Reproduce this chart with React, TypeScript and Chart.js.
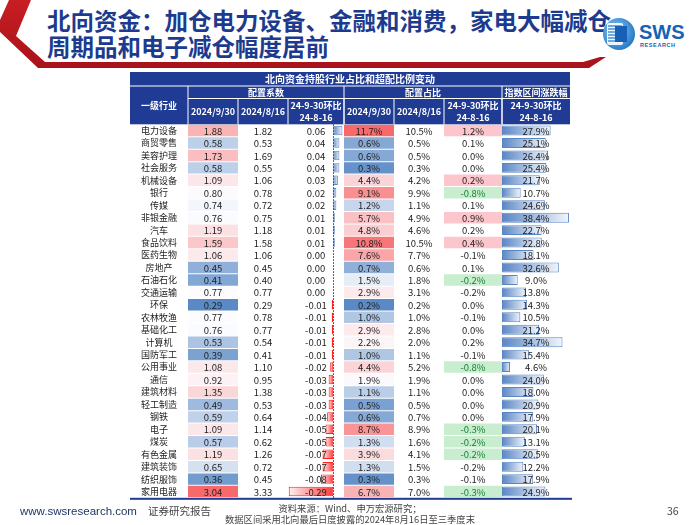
import React, { useEffect, useRef } from 'react';
import { Chart, registerables } from 'chart.js';

Chart.register(...registerables);

// ---------------- data ----------------
const industries = ['电力设备', '商贸零售', '美容护理', '社会服务', '机械设备', '银行', '传媒', '非银金融', '汽车', '食品饮料', '医药生物', '房地产', '石油石化', '交通运输', '环保', '农林牧渔', '基础化工', '计算机', '国防军工', '公用事业', '通信', '建筑材料', '轻工制造', '钢铁', '电子', '煤炭', '有色金属', '建筑装饰', '纺织服饰', '家用电器'];
const coef0930 = [1.88, 0.58, 1.73, 0.58, 1.09, 0.80, 0.74, 0.76, 1.19, 1.59, 1.06, 0.45, 0.41, 0.77, 0.29, 0.77, 0.76, 0.53, 0.39, 1.08, 0.92, 1.35, 0.49, 0.59, 1.09, 0.57, 1.19, 0.65, 0.36, 3.04];
const coef0816 = [1.82, 0.53, 1.69, 0.55, 1.06, 0.78, 0.72, 0.75, 1.18, 1.58, 1.06, 0.45, 0.40, 0.77, 0.29, 0.78, 0.77, 0.54, 0.41, 1.10, 0.95, 1.38, 0.53, 0.64, 1.14, 0.62, 1.26, 0.72, 0.45, 3.33];
const coefChange = [0.06, 0.04, 0.04, 0.04, 0.03, 0.02, 0.02, 0.01, 0.01, 0.01, 0.00, 0.00, 0.00, 0.00, -0.01, -0.01, -0.01, -0.01, -0.01, -0.02, -0.03, -0.03, -0.03, -0.04, -0.05, -0.05, -0.07, -0.07, -0.08, -0.29];
const share0930 = [11.7, 0.6, 0.6, 0.3, 4.4, 9.1, 1.2, 5.7, 4.8, 10.8, 7.6, 0.7, 1.5, 2.9, 0.2, 1.0, 2.9, 2.2, 1.0, 4.4, 1.9, 1.1, 0.5, 0.6, 8.7, 1.3, 3.9, 1.3, 0.3, 6.7];
const share0816 = [10.5, 0.5, 0.5, 0.3, 4.2, 9.9, 1.1, 4.9, 4.6, 10.5, 7.7, 0.6, 1.8, 3.1, 0.2, 1.0, 2.8, 2.0, 1.1, 5.2, 1.9, 1.1, 0.5, 0.7, 8.9, 1.6, 4.1, 1.5, 0.3, 7.0];
// underlying (unrounded) change of share, shown with one decimal
const shareChange = [1.22, 0.08, 0.03, 0.02, 0.24, -0.79, 0.09, 0.86, 0.17, 0.38, -0.12, 0.09, -0.24, -0.17, 0.01, -0.06, 0.04, 0.18, -0.09, -0.78, 0.02, 0.01, 0.03, 0.02, -0.27, -0.22, -0.21, -0.18, -0.06, -0.31];
const indexChange = [27.9, 25.1, 26.4, 25.4, 21.7, 10.7, 24.6, 38.4, 22.7, 22.8, 18.1, 32.6, 9.0, 13.8, 14.3, 10.5, 21.2, 34.7, 15.4, 4.6, 24.0, 18.0, 20.9, 17.9, 20.1, 13.1, 20.5, 12.2, 17.9, 24.9];

const tableTitle = '北向资金持股行业占比和超配比例变动';
const rowHeader = '一级行业';
const groupHeaders = [
  { label: '配置系数', from: 'c1', to: 'c3' },
  { label: '配置占比', from: 'c4', to: 'c6' },
  { label: '指数区间涨跌幅', from: 'c7', to: 'c7' },
];
const subHeaders = [['2024/9/30'], ['2024/8/16'], ['24-9-30环比', '24-8-16'], ['2024/9/30'], ['2024/8/16'], ['24-9-30环比', '24-8-16'], ['24-9-30环比', '24-8-16']];
const shareHighlight = 0.2;

// ---------------- layout / style ----------------
const COL_IDS = ['c1', 'c2', 'c3', 'c4', 'c5', 'c6', 'c7'];
const COL_WEIGHTS = [50, 50, 56, 50, 50, 58, 68];
const COL_RANGES: Record<string, [number, number]> = {
  c1: [0, 1], c2: [0, 1], c3: [-0.295, 0.07], c4: [0, 1], c5: [0, 1], c6: [0, 1], c7: [0, 39],
};
const HEADER_TOP = 72;
const HEADER_ROW1 = 86;
const HEADER_ROW2 = 98.5;
const NAVY = '#1f3b93';
const TEXT = '#222';
const FONT = '"Noto Sans CJK SC", "Noto Sans", sans-serif';

const LOW = [90, 138, 198];
const MID = [252, 252, 255];
const HIGH = [248, 105, 107];

function mix(a: number[], b: number[], t: number) {
  const c = a.map((v, i) => Math.round(v + (b[i] - v) * Math.max(0, Math.min(1, t))));
  return `rgb(${c[0]},${c[1]},${c[2]})`;
}
function heatColors(arr: number[]) {
  const s = [...arr].sort((a, b) => a - b);
  const n = s.length;
  const min = s[0], max = s[n - 1];
  const mid = n % 2 ? s[(n - 1) / 2] : (s[n / 2 - 1] + s[n / 2]) / 2;
  return arr.map((v) => (v <= mid ? mix(MID, LOW, (mid - v) / (mid - min)) : mix(MID, HIGH, (v - mid) / (max - mid))));
}

export default function App() {
  const ref = useRef<HTMLCanvasElement>(null);

  useEffect(() => {
    const canvas = ref.current!;
    const cell = industries.map(() => [0, 1]);

    const xScales: any = {};
    COL_IDS.forEach((id, i) => {
      xScales[id] = {
        type: 'linear', axis: 'x', position: 'bottom', stack: 'cols', stackWeight: COL_WEIGHTS[i], weight: i,
        display: false, min: COL_RANGES[id][0], max: COL_RANGES[id][1], grid: { display: false },
      };
    });

    const gradientBar = (scaleId: string, values: number[], pos: string[], neg: string[]) => (c: any) => {
      const chart = c.chart;
      const sc = chart.scales[scaleId];
      if (c.dataIndex === undefined || !sc) return pos[0];
      const v = values[c.dataIndex];
      const st = v < 0 ? neg : pos;
      const x0 = sc.getPixelForValue(0);
      const x1 = sc.getPixelForValue(v);
      if (!isFinite(x0) || !isFinite(x1) || Math.abs(x1 - x0) < 0.01) return st[0];
      const g = chart.ctx.createLinearGradient(x0, 0, x1, 0);
      g.addColorStop(0, st[0]);
      g.addColorStop(1, st[1]);
      return g;
    };
    const BLUE_BAR = ['#5a86c4', '#f2f6fc'];
    const RED_BAR = ['#ff3b3b', '#fff0f0'];

    const common = { categoryPercentage: 1, grouped: false, borderSkipped: false };

    const texts: { id: string; labels: string[]; colors?: string[] }[] = [
      { id: 'c1', labels: coef0930.map((v) => v.toFixed(2)) },
      { id: 'c2', labels: coef0816.map((v) => v.toFixed(2)) },
      { id: 'c3', labels: coefChange.map((v) => v.toFixed(2)) },
      { id: 'c4', labels: share0930.map((v) => v.toFixed(1) + '%') },
      { id: 'c5', labels: share0816.map((v) => v.toFixed(1) + '%') },
      { id: 'c6', labels: shareChange.map((v) => v.toFixed(1) + '%'), colors: shareChange.map((v) => (v < -shareHighlight ? '#1a8036' : TEXT)) },
      { id: 'c7', labels: indexChange.map((v) => v.toFixed(1) + '%') },
    ];

    const tablePlugin = {
      id: 'tablePlugin',
      afterDatasetsDraw(chart: any) {
        const ctx = chart.ctx;
        const area = chart.chartArea;
        const ys = chart.scales.y;
        ctx.save();
        const ax = Math.round(chart.scales.c3.getPixelForValue(0)) + 0.5;
        ctx.strokeStyle = '#333';
        ctx.lineWidth = 1;
        ctx.setLineDash([1.5, 1.5]);
        ctx.beginPath();
        ctx.moveTo(ax, area.top);
        ctx.lineTo(ax, area.bottom);
        ctx.stroke();
        ctx.setLineDash([]);
        ctx.font = `9.5px ${FONT}`;
        ctx.textAlign = 'center';
        ctx.textBaseline = 'middle';
        texts.forEach((t) => {
          const sc = chart.scales[t.id];
          const cx = (sc.left + sc.right) / 2;
          t.labels.forEach((s, i) => {
            ctx.fillStyle = t.colors ? t.colors[i] : TEXT;
            ctx.fillText(s, cx, ys.getPixelForValue(i) + 0.5);
          });
        });
        ctx.restore();
      },
      afterDraw(chart: any) {
        const ctx = chart.ctx;
        const area = chart.chartArea;
        const ys = chart.scales.y;
        const L = ys.left, R = area.right, T = HEADER_TOP, B = area.top;
        const col = (id: string) => chart.scales[id];
        ctx.save();
        ctx.fillStyle = NAVY;
        ctx.fillRect(L, T, R - L, B - T);
        ctx.strokeStyle = '#fff';
        ctx.lineWidth = 1;
        const line = (x1: number, y1: number, x2: number, y2: number) => {
          ctx.beginPath();
          ctx.moveTo(x1, y1);
          ctx.lineTo(x2, y2);
          ctx.stroke();
        };
        line(L, HEADER_ROW1, R, HEADER_ROW1);
        line(area.left, HEADER_ROW2, R, HEADER_ROW2);
        line(area.left, HEADER_ROW1, area.left, B);
        groupHeaders.forEach((g) => {
          const r = col(g.to).right;
          if (r < R - 1) line(r, HEADER_ROW1, r, B);
        });
        COL_IDS.forEach((id) => {
          const r = col(id).right;
          if (r < R - 1) line(r, HEADER_ROW2, r, B);
        });
        ctx.fillStyle = '#fff';
        ctx.textAlign = 'center';
        ctx.textBaseline = 'middle';
        ctx.font = `700 10px ${FONT}`;
        ctx.fillText(tableTitle, (L + R) / 2, (T + HEADER_ROW1) / 2);
        ctx.font = `700 9px ${FONT}`;
        ctx.fillText(rowHeader, (L + area.left) / 2, (HEADER_ROW1 + B) / 2);
        groupHeaders.forEach((g) => {
          ctx.fillText(g.label, (col(g.from).left + col(g.to).right) / 2, (HEADER_ROW1 + HEADER_ROW2) / 2);
        });
        COL_IDS.forEach((id, i) => {
          const lines = subHeaders[i];
          const cx = (col(id).left + col(id).right) / 2;
          const cy = (HEADER_ROW2 + B) / 2;
          if (lines.length === 1) ctx.fillText(lines[0], cx, cy);
          else {
            ctx.fillText(lines[0], cx, cy - 6.2);
            ctx.fillText(lines[1], cx, cy + 6);
          }
        });
        ctx.fillStyle = NAVY;
        ctx.fillRect(L, area.bottom, R - L + 2, 2);
        ctx.restore();
      },
    };

    const chart = new Chart(canvas, {
      type: 'bar',
      data: {
        labels: industries,
        datasets: [
          { xAxisID: 'c1', data: cell, backgroundColor: heatColors(coef0930), barPercentage: 0.92, ...common },
          { xAxisID: 'c2', data: cell, backgroundColor: 'rgba(0,0,0,0)', barPercentage: 0.92, ...common },
          {
            xAxisID: 'c3', data: coefChange.map((v) => [0, v]),
            backgroundColor: gradientBar('c3', coefChange, BLUE_BAR, RED_BAR),
            borderColor: coefChange.map((v) => (v < 0 ? '#ff2020' : '#5a86c4')),
            borderWidth: coefChange.map((v) => (v === 0 ? 0 : 1)),
            barPercentage: 0.76, ...common,
          },
          { xAxisID: 'c4', data: cell, backgroundColor: heatColors(share0930), barPercentage: 0.92, ...common },
          { xAxisID: 'c5', data: cell, backgroundColor: 'rgba(0,0,0,0)', barPercentage: 0.92, ...common },
          {
            xAxisID: 'c6', data: cell,
            backgroundColor: shareChange.map((v) => (v > shareHighlight ? '#fdc6cc' : v < -shareHighlight ? '#c8eecf' : 'rgba(0,0,0,0)')),
            barPercentage: 0.92, ...common,
          },
          {
            xAxisID: 'c7', data: indexChange.map((v) => [0, v]),
            backgroundColor: gradientBar('c7', indexChange, BLUE_BAR, BLUE_BAR),
            borderColor: '#5a86c4', borderWidth: 1,
            barPercentage: 0.8, ...common,
          },
        ] as any,
      },
      options: {
        indexAxis: 'y',
        responsive: false,
        maintainAspectRatio: false,
        animation: false,
        devicePixelRatio: 1,
        events: [],
        layout: { padding: { left: 130, right: 130, top: 124.3, bottom: 27.2 } },
        plugins: { legend: { display: false }, tooltip: { enabled: false }, title: { display: false } },
        scales: {
          y: {
            type: 'category',
            position: 'left',
            offset: true,
            grid: { display: false, drawTicks: false },
            border: { display: false },
            ticks: { autoSkip: false, crossAlign: 'center', padding: 11, color: TEXT, font: { family: FONT, size: 9 } },
            afterFit: (s: any) => { s.width = 58; },
          },
          ...xScales,
        },
      } as any,
      plugins: [tablePlugin],
    });
    return () => chart.destroy();
  }, []);

  return (
    <div style={{ position: 'fixed', left: 0, top: 0, width: 700, height: 525, background: '#fff', overflow: 'hidden', fontFamily: FONT }}>
      <svg width={700} height={80} style={{ position: 'absolute', left: 0, top: 0 }}>
        <defs>
          <linearGradient id="redg" x1="0" y1="0" x2="0" y2="1">
            <stop offset="0" stopColor="#c81e24" />
            <stop offset="1" stopColor="#a8121a" />
          </linearGradient>
        </defs>
        <polygon points="9,0 31,0 16,36 45,62 583,62 600,57 606,57 589,68 38,68 0,32 0,20" fill="url(#redg)" />
      </svg>
      <div style={{ position: 'absolute', left: 47, top: 7, fontSize: 23.5, lineHeight: '26px', fontWeight: 700, color: '#1c3b8e', whiteSpace: 'nowrap' }}>
        <div>北向资金：加仓电力设备、金融和消费，家电大幅减仓</div>
        <div>周期品和电子减仓幅度居前</div>
      </div>
      <svg width={100} height={44} style={{ position: 'absolute', left: 598, top: 14 }}>
        <defs>
          <radialGradient id="lg" cx="0.4" cy="0.4" r="0.7">
            <stop offset="0" stopColor="#8ccbf3" />
            <stop offset="1" stopColor="#1b6fc2" />
          </radialGradient>
        </defs>
        <circle cx={21} cy={20} r={16} fill="url(#lg)" />
        <rect x={9} y={9} width={16} height={22} rx={2} fill="#fff" opacity={0.9} />
        {[12, 15, 18, 21, 24, 27].map((y) => (
          <line key={y} x1={10} y1={y} x2={24} y2={y} stroke="#2c7fd0" strokeWidth={1.3} />
        ))}
        <rect x={17} y={12} width={12} height={16} fill="#1660b5" />
        <text x={41} y={25} fontFamily="Liberation Sans, Arial, sans-serif" fontWeight={700} fontSize={20} fill="#1662b4">SWS</text>
        <text x={42} y={33} fontFamily="Liberation Sans, Arial, sans-serif" fontWeight={700} fontSize={5.5} fill="#1662b4" letterSpacing={0.6}>RESEARCH</text>
      </svg>
      <canvas ref={ref} width={700} height={525} style={{ position: 'absolute', left: 0, top: 0, width: 700, height: 525 }} />
      <div style={{ position: 'absolute', left: 20, top: 504, fontSize: 11.5, lineHeight: '14px', color: '#203864', fontFamily: '"Liberation Sans", Arial, sans-serif' }}>www.swsresearch.com</div>
      <div style={{ position: 'absolute', left: 148, top: 504, fontSize: 10.5, lineHeight: '14px', color: '#444' }}>证券研究报告</div>
      <div style={{ position: 'absolute', left: 200, top: 503, width: 300, textAlign: 'center', fontSize: 9.3, lineHeight: '11px', color: '#444' }}>
        <div>资料来源：Wind、申万宏源研究；</div>
        <div>数据区间采用北向最后日度披露的2024年8月16日至三季度末</div>
      </div>
      <div style={{ position: 'absolute', left: 667, top: 504, fontSize: 10.5, lineHeight: '14px', color: '#444' }}>36</div>
    </div>
  );
}
